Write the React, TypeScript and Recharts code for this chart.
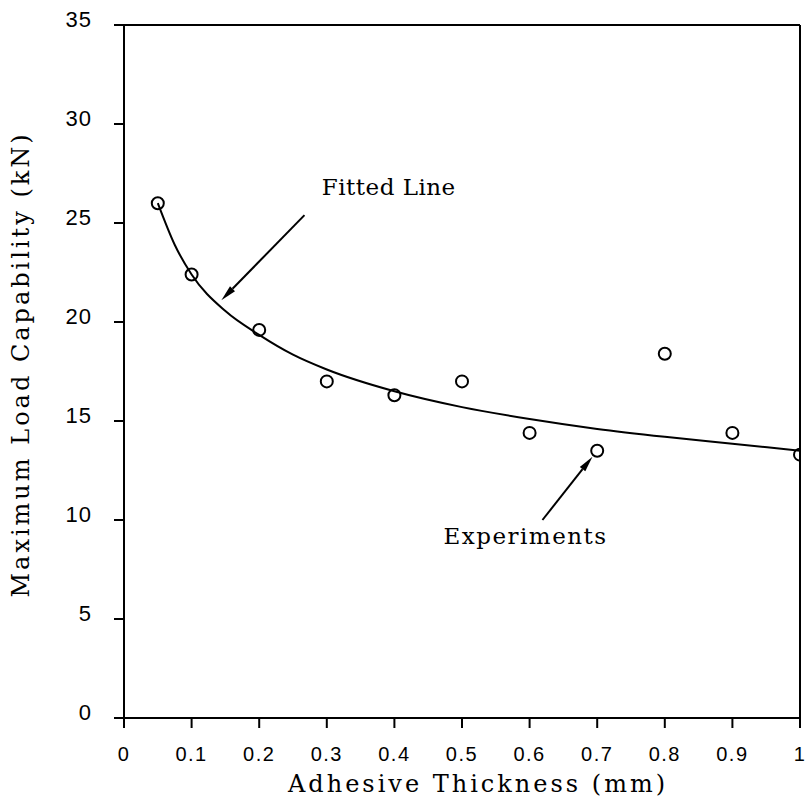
import React from "react";
import {
  ComposedChart,
  Line,
  Scatter,
  XAxis,
  YAxis,
  ReferenceLine,
  ReferenceDot,
} from "recharts";

const thickness = [0.05, 0.1, 0.2, 0.3, 0.4, 0.5, 0.6, 0.7, 0.8, 0.9, 1.0];
const maxLoad = [26.0, 22.4, 19.6, 17.0, 16.3, 17.0, 14.4, 13.5, 18.4, 14.4, 13.3];

// fitted curve
const fitThickness = [0.05, 0.075, 0.1, 0.15, 0.2, 0.25, 0.3, 0.4, 0.5, 0.6, 0.7, 0.8, 0.9, 1.0];
const fitLoad = [26.0, 23.9, 22.4, 20.55, 19.35, 18.35, 17.6, 16.5, 15.7, 15.1, 14.6, 14.2, 13.85, 13.5];

const xTicks = [0, 0.1, 0.2, 0.3, 0.4, 0.5, 0.6, 0.7, 0.8, 0.9, 1];
const yTicks = [0, 5, 10, 15, 20, 25, 30, 35];

const expData = thickness.map((x, i) => ({ x, y: maxLoad[i] }));
const fitData = fitThickness.map((x, i) => ({ x, y: fitLoad[i] }));

const serif = "DejaVu Serif";
const sans = "Liberation Sans";

const YTick = ({ x, y, payload }: any) => (
  <text
    x={x}
    y={y - 6}
    textAnchor="end"
    dominantBaseline="central"
    fontFamily={sans}
    fontSize={22}
    letterSpacing={1}
    fill="#000"
  >
    {payload.value}
  </text>
);

const XTick = ({ x, y, payload }: any) => (
  <text
    x={x}
    y={y}
    textAnchor="middle"
    dominantBaseline="central"
    fontFamily={sans}
    fontSize={20}
    letterSpacing={1.5}
    fill="#000"
  >
    {payload.value}
  </text>
);

const Arrow = (props: any) => {
  const { x1, y1, x2, y2 } = props;
  const ang = Math.atan2(y2 - y1, x2 - x1);
  const len = 16;
  const w = 3.5;
  const bx = x2 - len * Math.cos(ang);
  const by = y2 - len * Math.sin(ang);
  const px = -Math.sin(ang) * w;
  const py = Math.cos(ang) * w;
  return (
    <g>
      <line x1={x1} y1={y1} x2={bx} y2={by} stroke="#000" strokeWidth={2} />
      <polygon
        points={`${x2},${y2} ${bx + px},${by + py} ${bx - px},${by - py}`}
        fill="#000"
      />
    </g>
  );
};

const note = (text: string, anchor: "start" | "middle", spacing: number) => (props: any) => (
  <text
    x={props.cx}
    y={props.cy}
    textAnchor={anchor}
    dominantBaseline="central"
    fontFamily={serif}
    fontSize={23}
    letterSpacing={spacing}
    fill="#000"
  >
    {text}
  </text>
);

export default function App() {
  return (
    <div style={{ position: "absolute", left: 0, top: 0, background: "#fff" }}>
      <ComposedChart
        width={805}
        height={799}
        margin={{ top: 25, right: 5, left: 64, bottom: 31 }}
      >
        <XAxis
          dataKey="x"
          type="number"
          domain={[0, 1]}
          ticks={xTicks}
          tick={<XTick />}
          tickSize={10}
          tickMargin={26}
          height={50}
          stroke="#000"
          strokeWidth={2}
          interval={0}
          allowDataOverflow
          label={{
            value: "Adhesive Thickness (mm)",
            position: "bottom",
            offset: 7,
            dx: 16,
            fontFamily: serif,
            fontSize: 24,
            letterSpacing: 3,
            fill: "#000",
          }}
        />
        <YAxis
          dataKey="y"
          type="number"
          domain={[0, 35]}
          ticks={yTicks}
          tick={<YTick />}
          tickSize={10}
          tickMargin={22}
          width={60}
          stroke="#000"
          strokeWidth={2}
          interval={0}
          allowDataOverflow
          label={{
            value: "Maximum Load Capability (kN)",
            angle: -90,
            position: "insideLeft",
            offset: -44,
            dy: 226,
            fontFamily: serif,
            fontSize: 24,
            letterSpacing: 3,
            fill: "#000",
          }}
        />
        <ReferenceLine y={35} stroke="#000" strokeWidth={2} />
        <ReferenceLine x={1} stroke="#000" strokeWidth={2} />
        <Line
          data={fitData}
          dataKey="y"
          type="monotone"
          stroke="#000"
          strokeWidth={2}
          dot={false}
          activeDot={false}
          isAnimationActive={false}
        />
        <Scatter
          data={expData}
          dataKey="y"
          shape={(p: any) => (
            <circle cx={p.cx} cy={p.cy} r={6} fill="none" stroke="#000" strokeWidth={2} />
          )}
          isAnimationActive={false}
        />
        <ReferenceLine
          segment={[
            { x: 0.267, y: 25.4 },
            { x: 0.144, y: 21.1 },
          ]}
          shape={Arrow}
        />
        <ReferenceLine
          segment={[
            { x: 0.619, y: 10.0 },
            { x: 0.693, y: 13.2 },
          ]}
          shape={Arrow}
        />
        <ReferenceDot x={0.2925} y={26.8} r={0} shape={note("Fitted Line", "start", 0.5)} />
        <ReferenceDot x={0.594} y={9.2} r={0} shape={note("Experiments", "middle", 1.5)} />
      </ComposedChart>
    </div>
  );
}
